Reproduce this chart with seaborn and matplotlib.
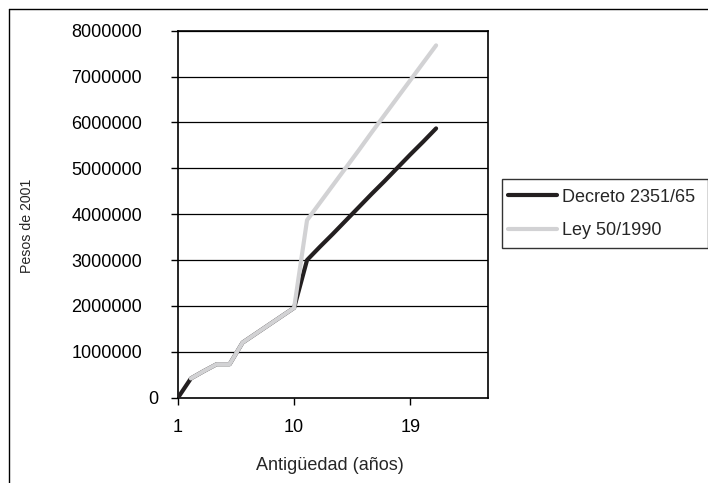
import pandas as pd
import numpy as np
import matplotlib
matplotlib.use('Agg')
import matplotlib.pyplot as plt
import matplotlib.transforms as mtransforms
from matplotlib.lines import Line2D
from matplotlib.patches import Rectangle
from matplotlib.ticker import FuncFormatter
import seaborn as sns

# Data
anos = list(range(1, 22))
decreto = [0, 420000, 580000, 730000, 730000, 1200000, 1390000, 1580000, 1770000, 1960000,
           3000000, 3290000, 3570000, 3860000, 4150000, 4440000, 4720000, 5010000, 5300000,
           5580000, 5870000]
ley = [np.nan, 420000, 580000, 730000, 730000, 1200000, 1390000, 1580000, 1770000, 1960000,
       3870000, 4250000, 4630000, 5010000, 5390000, 5780000, 6160000, 6540000, 6920000,
       7300000, 7680000]
series_names = ['Decreto 2351/65', 'Ley 50/1990']
y_ticks = list(range(0, 8000001, 1000000))
x_ticks = [1, 10, 19]

df = pd.DataFrame({
    'Antigüedad': anos * 2,
    'Pesos': decreto + ley,
    'Serie': [series_names[0]] * len(anos) + [series_names[1]] * len(anos),
}).dropna()

sns.set_style('white')
plt.rcParams['font.family'] = ['Liberation Sans', 'DejaVu Sans']

fig = plt.figure(figsize=(7.08, 4.83), dpi=100)
ax = fig.add_axes([178 / 708, 1 - 397.7 / 483, (487.7 - 178) / 708, (397.7 - 30.7) / 483])

# grid lines first so the series sit on top
for v in y_ticks[1:]:
    ax.axhline(v, color='black', lw=0.9, zorder=1)

colors = ['#231f20', '#d2d2d4']
sns.lineplot(data=df, x='Antigüedad', y='Pesos', hue='Serie', hue_order=series_names,
             palette=colors, linewidth=3, solid_capstyle='round',
             ax=ax, zorder=3, legend=False)

ax.set_xlim(1, 25)
ax.set_ylim(0, 8000000)
ax.set_xticks(x_ticks)
ax.set_yticks(y_ticks)
ax.yaxis.set_major_formatter(FuncFormatter(lambda v, p: f'{v:.0f}'))
ax.tick_params(axis='both', direction='out', length=5, width=1, color='black',
               labelsize=13, labelcolor='black')
ax.tick_params(axis='y', pad=21, left=True)
ax.tick_params(axis='x', pad=10, bottom=True)
ax.set_xlabel('')
ax.set_ylabel('')
for s in ax.spines.values():
    s.set_color('black')
    s.set_linewidth(1.2)
    s.set_visible(True)

# the "0" label sits further right in the reference
offset = mtransforms.ScaledTranslation(16 / 100, 0, fig.dpi_scale_trans)
for lab in ax.get_yticklabels():
    if lab.get_text() == '0':
        lab.set_transform(lab.get_transform() + offset)

fig.text(27 / 708, 1 - 226 / 483, 'Pesos de 2001', rotation=90, ha='center', va='center',
         fontsize=10.2)
fig.text(330 / 708, 1 - 465 / 483, 'Antigüedad (años)', ha='center', va='center', fontsize=13)

# legend box, drawn as its own rectangle so it can run to the image edge
fig.add_artist(Rectangle((501.7 / 708, 1 - 248.3 / 483), (707.5 - 501.7) / 708, 69 / 483,
                         transform=fig.transFigure, facecolor='white', edgecolor='#333333',
                         lw=1, zorder=4))
handles = [Line2D([], [], color=colors[0], lw=3, solid_capstyle='round'),
           Line2D([], [], color=colors[1], lw=3, solid_capstyle='round')]
leg = fig.legend(handles, series_names, loc='center left',
                 bbox_to_anchor=(508 / 708, 1 - 213.9 / 483), fontsize=13,
                 frameon=False, handlelength=2.72, handletextpad=0.28, labelspacing=0.9,
                 borderpad=0, borderaxespad=0)
leg.set_zorder(5)

# outer chart frame (left and top edges visible)
fig.add_artist(Line2D([9 / 708, 9 / 708], [0, 1 - 9 / 483], color='black', lw=1,
                      transform=fig.transFigure))
fig.add_artist(Line2D([9 / 708, 1], [1 - 9 / 483, 1 - 9 / 483], color='black', lw=1,
                      transform=fig.transFigure))

fig.savefig('out.png', dpi=100)
